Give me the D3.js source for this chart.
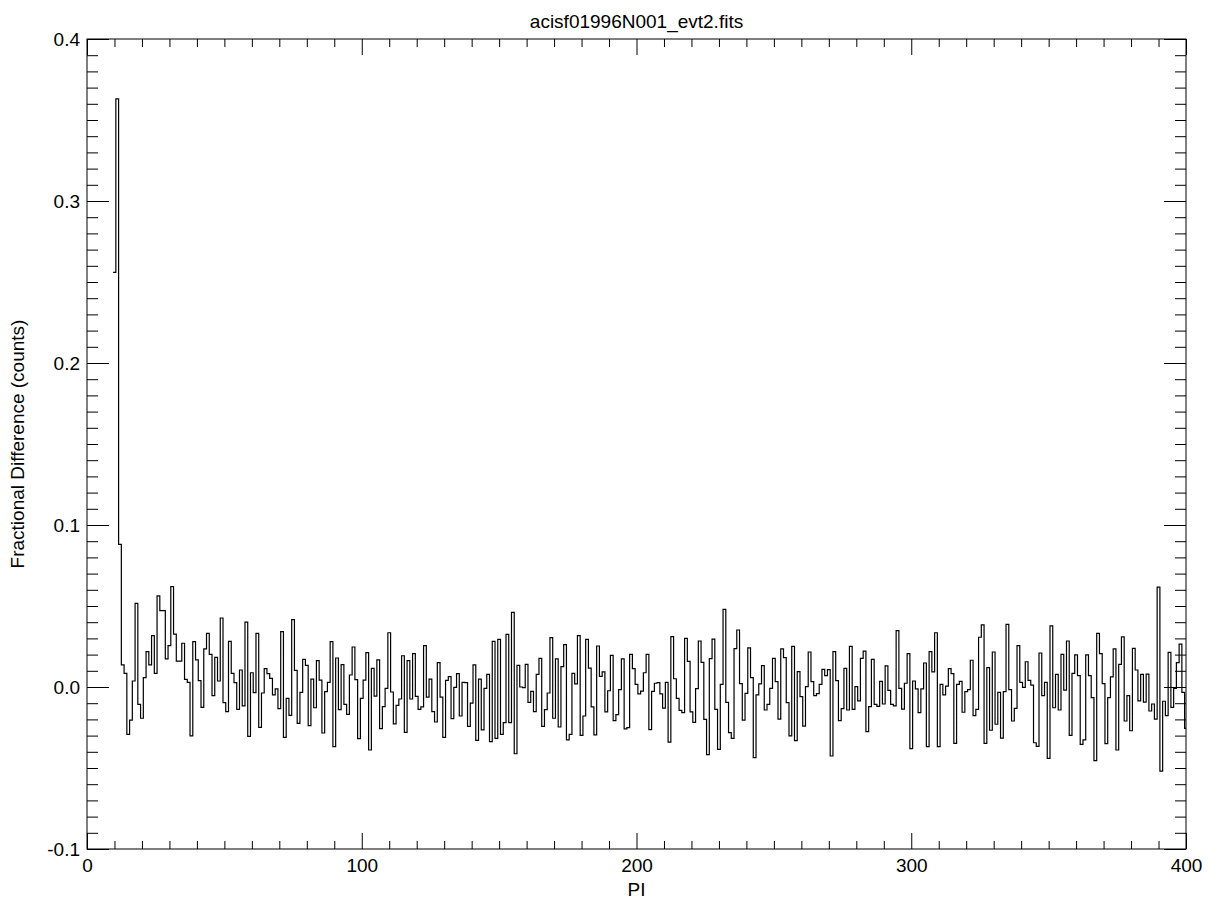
<!DOCTYPE html>
<html>
<head>
<meta charset="utf-8">
<script src="https://cdn.jsdelivr.net/npm/d3@7"></script>
<style>
  body { margin: 0; background: #fff; }
  text { font-family: "Liberation Sans", Arial, Helvetica, sans-serif; fill: #000; }
</style>
</head>
<body>
<div id="chart-area"></div>
<script>
// DATA ------------------------------------------------------------
var chartTitle = "acisf01996N001_evt2.fits";
var xTitle = "PI";
var yTitle = "Fractional Difference (counts)";

var xMajorTicks = [0, 100, 200, 300, 400];
var yMajorTicks = [-0.1, 0.0, 0.1, 0.2, 0.3, 0.4];

// first PI channel of the histogram, one value per channel after that
var piStart = 10;
var fracDiff = [
  0.256, 0.363, 0.088, 0.0136, 0.0084, -0.0292, -0.0204, 0.0037, 0.0516, -0.0107,
  -0.0193, 0.0058, 0.0218, 0.0136, 0.0317, 0.0084, 0.0562, 0.0471, 0.0471, 0.0173,
  0.0255, 0.0619, 0.0327, 0.0160, 0.0160, 0.0270, 0.0047, 0.0029, -0.0302, 0.0280,
  0.0167, 0.0039, -0.0126, 0.0235, 0.0331, 0.0202, -0.0053, 0.0183, 0.0037, 0.0426,
  -0.0097, -0.0152, 0.0282, 0.0084, 0.0027, -0.0138, 0.0105, -0.0117, 0.0401, -0.0305,
  0.0088, -0.0035, 0.0331, -0.0249, -0.0037, 0.0113, 0.0082, 0.0053, -0.0049, -0.0012,
  -0.0134, 0.0342, -0.0311, -0.0070, -0.0175, 0.0416, 0.0103, -0.0224, -0.0033, 0.0171,
  0.0134, -0.0239, 0.0049, -0.0128, 0.0163, 0.0043, -0.0284, -0.0029, 0.0029, 0.0280,
  -0.0368, 0.0179, -0.0140, 0.0138, -0.0107, -0.0169, 0.0074, 0.0247, 0.0045, -0.0319,
  -0.0070, 0.0043, 0.0212, -0.0389, 0.0115, -0.0056, 0.0167, -0.0257, -0.0121, -0.0008,
  0.0335, -0.0031, -0.0228, -0.0113, -0.0074, 0.0193, -0.0280, 0.0163, -0.0074, 0.0206,
  -0.0058, -0.0138, -0.0123, 0.0255, -0.0062, 0.0049, -0.0152, -0.0216, 0.0150, -0.0062,
  -0.0311, 0.0041, 0.0064, -0.0195, -0.0002, 0.0082, -0.0179, 0.0029, 0.0027, -0.0243,
  -0.0099, 0.0136, -0.0329, 0.0049, -0.0265, -0.0008, 0.0078, -0.0337, 0.0282, -0.0317,
  0.0294, -0.0292, -0.0220, 0.0325, -0.0220, 0.0461, -0.0412, 0.0134, 0.0000, -0.0004,
  0.0140, -0.0095, -0.0027, -0.0152, 0.0078, 0.0177, -0.0243, -0.0140, -0.0037, 0.0305,
  -0.0193, 0.0173, -0.0247, 0.0126, 0.0261, -0.0327, -0.0292, 0.0084, 0.0019, 0.0317,
  -0.0298, -0.0179, 0.0294, 0.0117, -0.0123, -0.0296, 0.0253, 0.0066, 0.0093, -0.0154,
  -0.0023, 0.0195, -0.0208, -0.0171, -0.0016, 0.0173, -0.0259, -0.0251, 0.0202, 0.0113,
  0.0016, -0.0043, -0.0025, 0.0088, 0.0202, -0.0263, -0.0027, 0.0023, 0.0027, -0.0043,
  -0.0130, 0.0029, -0.0340, 0.0311, 0.0051, -0.0070, -0.0144, -0.0158, 0.0300, 0.0158,
  -0.0154, -0.0218, -0.0010, 0.0284, 0.0152, -0.0200, -0.0418, 0.0175, 0.0296, -0.0138,
  -0.0385, 0.0016, 0.0479, -0.0095, -0.0282, -0.0317, 0.0237, 0.0352, 0.0021, -0.0204,
  -0.0039, 0.0241, 0.0058, -0.0436, -0.0049, 0.0019, 0.0132, -0.0142, -0.0107, -0.0008,
  0.0177, 0.0033, -0.0198, 0.0235, 0.0181, -0.0097, -0.0302, 0.0251, -0.0331, 0.0095,
  -0.0060, -0.0241, 0.0002, 0.0216, 0.0033, -0.0053, -0.0041, 0.0016, 0.0109, 0.0070,
  0.0107, -0.0426, 0.0218, 0.0039, -0.0208, -0.0134, 0.0115, -0.0142, 0.0251, -0.0138,
  0.0002, -0.0086, 0.0177, 0.0222, -0.0276, -0.0121, 0.0171, -0.0107, -0.0119, 0.0035,
  -0.0105, 0.0130, -0.0021, -0.0107, -0.0117, 0.0348, -0.0008, -0.0136, 0.0023, 0.0206,
  -0.0381, 0.0037, -0.0012, -0.0158, -0.0012, 0.0148, -0.0368, 0.0218, 0.0093, 0.0335,
  -0.0368, 0.0016, -0.0049, 0.0006, 0.0113, 0.0082, -0.0348, 0.0016, 0.0035, -0.0156,
  -0.0029, -0.0016, 0.0165, -0.0177, -0.0138, 0.0307, 0.0383, -0.0348, 0.0119, -0.0267,
  0.0216, -0.0230, -0.0033, -0.0315, -0.0029, 0.0387, -0.0016, -0.0210, -0.0132, 0.0255,
  0.0029, -0.0002, 0.0156, 0.0041, 0.0012, -0.0344, -0.0366, 0.0210, -0.0053, 0.0029,
  -0.0440, 0.0377, -0.0128, 0.0078, -0.0142, 0.0202, -0.0019, 0.0284, -0.0298, 0.0084,
  0.0198, 0.0070, -0.0354, -0.0327, 0.0198, 0.0070, -0.0066, -0.0455, 0.0331, 0.0206,
  0.0021, -0.0350, -0.0066, 0.0062, 0.0235, -0.0389, 0.0140, 0.0309, -0.0210, -0.0053,
  -0.0270, 0.0239, 0.0105, -0.0086, 0.0078, -0.0093, 0.0080, -0.0148, -0.0105, -0.0198,
  0.0617, -0.0519, -0.0088, -0.0177, 0.0214, -0.0126, -0.0008, 0.0150, 0.0265, -0.0033,
  -0.0255
];

// LAYOUT ----------------------------------------------------------
var fullWidth = 1217;
var fullHeight = 907;
var margin = { left: 87, right: 31, top: 39, bottom: 58 };
var width = fullWidth - margin.left - margin.right;
var height = fullHeight - margin.top - margin.bottom;
var labelSize = "19px";

var svg = d3.select("#chart-area").append("svg")
    .attr("width", fullWidth)
    .attr("height", fullHeight);
svg.append("rect")
    .attr("width", fullWidth)
    .attr("height", fullHeight)
    .attr("fill", "#fff");

var mainGroup = svg.append("g")
    .attr("transform", "translate(" + margin.left + ", " + margin.top + ")");

// SCALES ----------------------------------------------------------
var x = d3.scaleLinear().domain([0, 400]).range([0, width]);
var y = d3.scaleLinear().domain([-0.1, 0.4]).range([height, 0]);

var xMinorTicks = d3.range(0, 401, 10).filter(d => xMajorTicks.indexOf(d) < 0);
var yMinorTicks = d3.range(-10, 41, 1).filter(d => d % 10 != 0).map(d => d / 100);

// AXES (IDL style: ticks inward on all four sides) ----------------
var majorX = 16, minorX = 8, majorY = 22, minorY = 11;

function styleAxis(g) {
    g.select(".domain").remove();
    g.selectAll(".tick line").attr("stroke", "#000").attr("stroke-width", 1);
    g.selectAll(".tick text").attr("font-size", labelSize).attr("fill", "#000");
}

mainGroup.append("g")
    .attr("transform", "translate(0, " + height + ")")
    .call(d3.axisBottom(x).tickValues(xMajorTicks).tickSize(-majorX).tickPadding(10)
        .tickFormat(d3.format("d")))
    .call(styleAxis);
mainGroup.append("g")
    .attr("transform", "translate(0, " + height + ")")
    .call(d3.axisBottom(x).tickValues(xMinorTicks).tickSize(-minorX).tickFormat(""))
    .call(styleAxis);
mainGroup.append("g")
    .call(d3.axisTop(x).tickValues(xMajorTicks).tickSize(-majorX).tickFormat(""))
    .call(styleAxis);
mainGroup.append("g")
    .call(d3.axisTop(x).tickValues(xMinorTicks).tickSize(-minorX).tickFormat(""))
    .call(styleAxis);

mainGroup.append("g")
    .call(d3.axisLeft(y).tickValues(yMajorTicks).tickSize(-majorY).tickPadding(7)
        .tickFormat(d => d.toFixed(1)))
    .call(styleAxis);
mainGroup.append("g")
    .call(d3.axisLeft(y).tickValues(yMinorTicks).tickSize(-minorY).tickFormat(""))
    .call(styleAxis);
mainGroup.append("g")
    .attr("transform", "translate(" + width + ", 0)")
    .call(d3.axisRight(y).tickValues(yMajorTicks).tickSize(-majorY).tickFormat(""))
    .call(styleAxis);
mainGroup.append("g")
    .attr("transform", "translate(" + width + ", 0)")
    .call(d3.axisRight(y).tickValues(yMinorTicks).tickSize(-minorY).tickFormat(""))
    .call(styleAxis);

// frame
mainGroup.append("rect")
    .attr("x", 0).attr("y", 0)
    .attr("width", width).attr("height", height)
    .attr("fill", "none")
    .attr("stroke", "#000")
    .attr("stroke-width", 1);

// HISTOGRAM (psym=10 style steps) ---------------------------------
var stepPoints = [];
fracDiff.forEach((v, i) => {
    var pi = piStart + i;
    stepPoints.push([pi - 0.5, v]);
    stepPoints.push([Math.min(pi + 0.5, 400), v]);
});

var line = d3.line()
    .x(d => x(d[0]))
    .y(d => y(d[1]));

mainGroup.append("path")
    .datum(stepPoints)
    .attr("d", line)
    .attr("fill", "none")
    .attr("stroke", "#000")
    .attr("stroke-width", 1.2);

// LABELS ----------------------------------------------------------
svg.append("text")
    .attr("x", margin.left + width / 2)
    .attr("y", 28)
    .attr("font-size", "19px")
    .attr("text-anchor", "middle")
    .text(chartTitle);

svg.append("text")
    .attr("x", margin.left + width / 2)
    .attr("y", 896)
    .attr("font-size", labelSize)
    .attr("text-anchor", "middle")
    .text(xTitle);

svg.append("text")
    .attr("transform", "translate(24, " + (margin.top + height / 2) + ") rotate(-90)")
    .attr("font-size", labelSize)
    .attr("text-anchor", "middle")
    .text(yTitle);
</script>
</body>
</html>
